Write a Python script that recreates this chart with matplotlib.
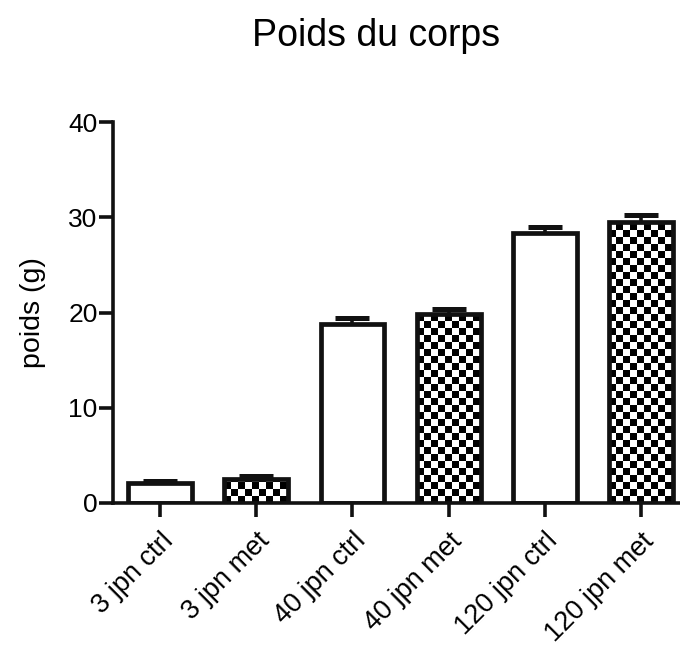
import matplotlib
matplotlib.use("Agg")
import matplotlib.pyplot as plt
import numpy as np

groups = ["3 jpn ctrl", "3 jpn met", "40 jpn ctrl", "40 jpn met", "120 jpn ctrl", "120 jpn met"]
poids = [2.1, 2.5, 18.8, 19.8, 28.3, 29.5]
sem = [0.2, 0.3, 0.6, 0.6, 0.7, 0.7]
checker = [False, True, False, True, False, True]

plt.rcParams["font.family"] = ["Liberation Sans", "DejaVu Sans"]

fig = plt.figure(figsize=(6.8, 6.46), dpi=100)
ax = fig.add_axes([113 / 680, 1 - 503 / 646, 1 - 113 / 680, (503 - 122) / 646])

x = np.arange(len(groups))
width = 0.665
ax.set_xlim(-0.49, 5.405)
ax.set_ylim(0, 40)

# error bars first so the bar covers the lower half
ax.errorbar(x, poids, yerr=sem, fmt="none", ecolor="#111111", elinewidth=2.6,
            capsize=12.5, capthick=3.6, zorder=1)
bars = ax.bar(x, poids, width, color="white", edgecolor="none", zorder=2)

# checkerboard fill for the "met" groups, clipped to each bar
cell = 7.0  # pixels
fig.canvas.draw()
px_x = ax.transData.transform((1, 0))[0] - ax.transData.transform((0, 0))[0]
px_y = ax.transData.transform((0, 1))[1] - ax.transData.transform((0, 0))[1]
for b, chk in zip(bars, checker):
    if not chk:
        continue
    x0, w, h = b.get_x(), b.get_width(), b.get_height()
    nx = int(np.ceil(w * px_x / cell)) + 1
    ny = int(np.ceil(h * px_y / cell)) + 1
    board = (np.add.outer(np.arange(ny), np.arange(nx)) % 2).astype(float)
    im = ax.imshow(board, cmap="gray", vmin=0.07, vmax=1, interpolation="nearest",
                   extent=(x0, x0 + nx * cell / px_x, 0, ny * cell / px_y),
                   origin="lower", aspect="auto", zorder=3)
    im.set_clip_path(b)

ax.bar(x, poids, width, fill=False, edgecolor="#111111", linewidth=3.4, zorder=4)
ax.set_xlim(-0.49, 5.405)
ax.set_ylim(0, 40)

ax.spines["top"].set_visible(False)
ax.spines["right"].set_visible(False)
for s in ("left", "bottom"):
    ax.spines[s].set_linewidth(2.6)
    ax.spines[s].set_color("#111111")
ax.tick_params(length=10, width=2.6, color="#111111", labelsize=19, pad=1)
ax.tick_params(axis="x", pad=8, labelsize=19.5)
ax.set_yticks([0, 10, 20, 30, 40])
ax.set_xticks(x)
ax.set_xticklabels(groups, rotation=45, ha="right", rotation_mode="anchor")
ax.set_ylabel("poids (g)", fontsize=20.5, labelpad=16)

fig.text(376 / 680, 1 - 36 / 646, "Poids du corps", ha="center", va="center", fontsize=27)

fig.savefig("out.png", dpi=100)
